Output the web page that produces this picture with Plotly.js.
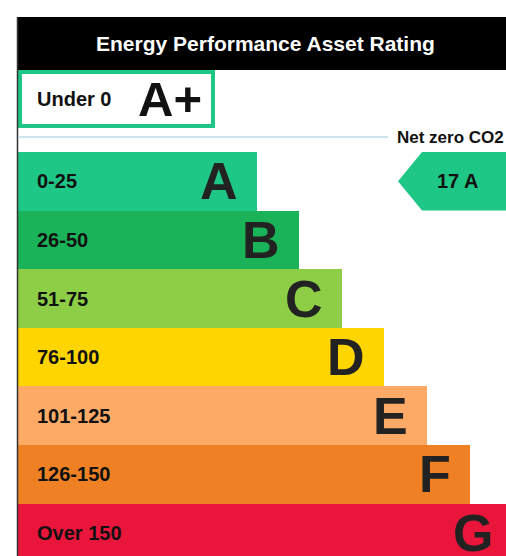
<!DOCTYPE html>
<html>
<head>
<meta charset="utf-8">
<script src="https://cdn.plot.ly/plotly-3.0.1.min.js"></script>
<style>html,body{margin:0;padding:0;background:#fff;}#chart{width:506px;height:556px;}</style>
</head>
<body>
<div id="chart"></div>
<script>
// ---- data ----
const chartTitle = 'Energy Performance Asset Rating';
const bands = ['A', 'B', 'C', 'D', 'E', 'F', 'G'];
const ranges = ['0-25', '26-50', '51-75', '76-100', '101-125', '126-150', 'Over 150'];
const barLength = [5.6, 6.6, 7.6, 8.6, 9.6, 10.6, 11.6];
const bandColors = ['#1fc787', '#1bb35a', '#8dce46', '#ffd500', '#fcaa65', '#ef8023', '#e9153b'];
const topBandLabel = 'A+';
const topBandRange = 'Under 0';
const topBandLength = 4.53;
const rating = 17;
const ratingBand = 'A';
const netZeroLabel = 'Net zero CO2';

// ---- layout helpers ----
const W = 506, H = 556;
const FONT = 'Liberation Sans, Arial, Helvetica, sans-serif';
const rowIdx = bands.map((b, i) => i);
const px = v => (v - 18) / 42.6;        // pixel x -> axis x
const py = v => (v - 181.3) / 58.6;     // pixel y -> axis y
const paperX = v => v / W;
const paperY = v => 1 - v / H;

const traces = [
  {
    type: 'bar', orientation: 'h',
    y: rowIdx, x: barLength, base: 0, width: 1,
    marker: {color: bandColors, line: {width: 0}},
    hoverinfo: 'none', showlegend: false
  },
  {
    type: 'bar', orientation: 'h',
    y: [-1.404], x: [topBandLength], base: [px(20)], width: [0.921],
    marker: {color: '#ffffff', line: {color: bandColors[0], width: 4}},
    hoverinfo: 'none', showlegend: false
  }
];

const annotations = [];
// header title
annotations.push({
  xref: 'paper', yref: 'paper', x: paperX(265), y: paperY(44),
  xanchor: 'center', yanchor: 'middle', showarrow: false,
  text: '<b>' + chartTitle + '</b>',
  font: {family: FONT, size: 21, color: '#ffffff'}
});
// band labels
rowIdx.forEach(i => {
  annotations.push({
    x: px(34.5), y: i, xanchor: 'left', yanchor: 'middle', showarrow: false,
    text: '<b>' + ranges[i] + '</b>', font: {family: FONT, size: 20, color: '#111111'}
  });
  annotations.push({
    x: barLength[i] - 17 / 42.6, y: i, xanchor: 'right', yanchor: 'middle', showarrow: false,
    text: '<b>' + bands[i] + '</b>', font: {family: FONT, size: 52, color: '#222222'}
  });
});
// top band
annotations.push({
  x: px(34.5), y: -1.404, xanchor: 'left', yanchor: 'middle', showarrow: false,
  text: '<b>' + topBandRange + '</b>', font: {family: FONT, size: 20, color: '#111111'}
});
annotations.push({
  x: px(204), y: -1.404, xanchor: 'right', yanchor: 'middle', showarrow: false,
  text: '<b>' + topBandLabel + '</b>', font: {family: FONT, size: 49, color: '#111111'}
});
// net zero
const netY = py(137);
annotations.push({
  xref: 'paper', x: 1, y: netY, xanchor: 'right', yanchor: 'middle', showarrow: false,
  text: '<b>' + netZeroLabel + '</b>', font: {family: FONT, size: 17, color: '#111111'}
});
// rating arrow
const rIdx = bands.indexOf(ratingBand);
const tipX = px(398), bodyX = px(422), endX = px(530);
annotations.push({
  x: px(458), y: rIdx, xanchor: 'center', yanchor: 'middle', showarrow: false,
  text: '<b>' + rating + ' ' + ratingBand + '</b>', font: {family: FONT, size: 20, color: '#111111'}
});

const shapes = [
  // header
  {type: 'rect', xref: 'paper', yref: 'paper', x0: paperX(17), x1: 1.02, y0: paperY(70), y1: paperY(17),
   fillcolor: '#000000', line: {width: 0}, layer: 'below'},
  // left border
  {type: 'line', xref: 'paper', yref: 'paper', x0: paperX(17.5), x1: paperX(17.5), y0: -0.02, y1: paperY(17),
   line: {color: '#333333', width: 1.5}, layer: 'above'},
  // net zero line
  {type: 'line', x0: 0, x1: px(388), y0: netY, y1: netY, line: {color: '#bcdcea', width: 1.5}},
  // rating arrow
  {type: 'path',
   path: 'M ' + tipX + ',' + rIdx + ' L ' + bodyX + ',' + (rIdx - 0.5) + ' L ' + endX + ',' + (rIdx - 0.5) +
         ' L ' + endX + ',' + (rIdx + 0.5) + ' L ' + bodyX + ',' + (rIdx + 0.5) + ' Z',
   fillcolor: bandColors[rIdx], line: {width: 0}, layer: 'below'}
];

const layout = {
  width: W, height: H,
  margin: {l: 0, r: 0, t: 0, b: 0, pad: 0},
  paper_bgcolor: '#ffffff', plot_bgcolor: '#ffffff',
  bargap: 0, barmode: 'overlay',
  xaxis: {range: [px(0), px(W)], visible: false, fixedrange: true},
  yaxis: {range: [py(H), py(0)], visible: false, fixedrange: true},
  annotations: annotations,
  shapes: shapes,
  showlegend: false
};

Plotly.newPlot('chart', traces, layout, {displayModeBar: false, staticPlot: true});
</script>
</body>
</html>
